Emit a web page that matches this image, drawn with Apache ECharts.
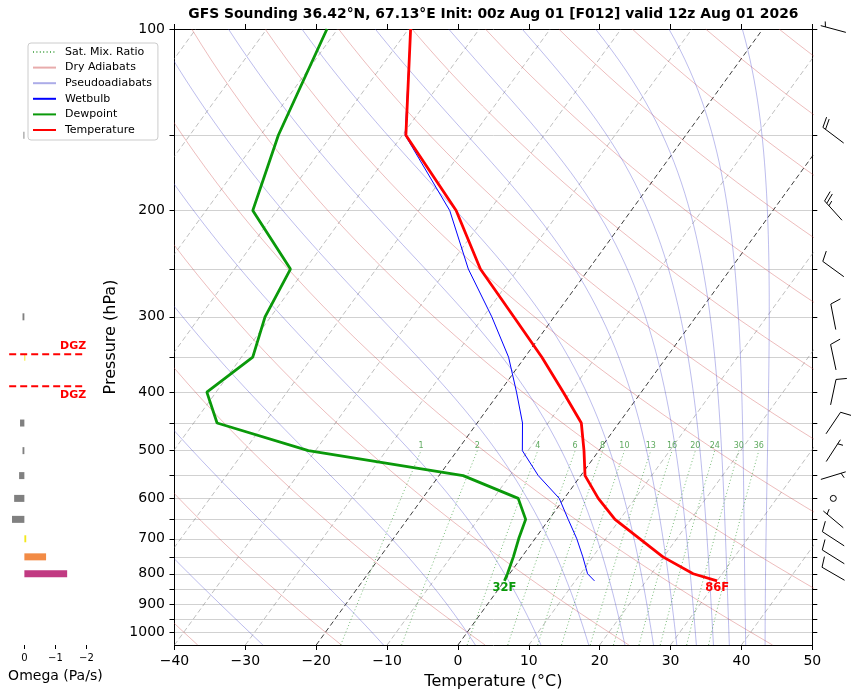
<!DOCTYPE html>
<html>
<head>
<meta charset="utf-8">
<script src="https://cdn.jsdelivr.net/npm/echarts@6/dist/echarts.min.js"></script>
<style>
  html, body { margin: 0; padding: 0; background: #fff; }
  #chart { width: 854px; height: 693px; }
</style>
</head>
<body>
<div id="chart"></div>
<script>
// sounding (hPa / degC)
const levels = [100, 150, 200, 250, 300, 350, 400, 450, 500, 550, 600, 650, 700, 750, 800, 822];
const temperature = [-69.7, -59.5, -44.7, -35.3, -25.7, -17.6, -11.0, -5.3, -2.1, 0.6, 4.8, 9.3, 14.8, 19.9, 25.9, 30.0];
const dewpoint = [-81.5, -77.5, -73.4, -62.1, -60.8, -58.4, -61.3, -56.7, -41.0, -16.6, -6.5, -3.3, -2.3, -1.2, -0.3, 0.0];
const wetbulb = [-69.7, -59.6, -45.6, -37.0, -28.8, -22.3, -17.6, -13.6, -10.8, -6.0, -0.7, 2.7, 5.9, 8.6, 11.0, 12.7];

// omega panel (Pa/s)
const omegaLevels = [150, 300, 350, 450, 500, 550, 600, 650, 700, 750, 800];
const omegaValues = [0.03, 0.06, -0.02, 0.14, 0.06, 0.17, 0.33, 0.40, -0.06, -0.70, -1.38];
const omegaColors = ["#808080", "#808080", "#f3e81c", "#808080", "#808080", "#808080", "#808080", "#808080", "#f3e81c", "#f28b45", "#c13a82"];
const dgzLevels = [346, 391];

// wind barbs (deg from, knots)
const windLevels = [100, 150, 200, 250, 300, 350, 400, 450, 500, 550, 600, 650, 700, 750, 800];
const windDir = [285, 307, 318, 306, 349, 348, 12, 34, 33, 73, 0, 310, 303, 302, 300];
const windSpeed = [5, 20, 25, 10, 10, 10, 10, 10, 5, 5, 0, 5, 10, 10, 10];

// background lines of the diagram
const isotherms = [-100, -90, -80, -70, -60, -50, -40, -30, -20, -10, 0, 10, 20, 30, 40];
const highlightIsotherms = [-20, 0];
const dryAdiabats = [-40, -20, 0, 20, 40, 60, 80, 100, 120, 140, 160, 180, 200, 220];
// pseudoadiabats, named by their potential temperature at the 100 hPa top
const moistAdiabats = [-30, -10, 10, 30, 50, 70, 90, 110, 130, 150, 170, 190, 210];
const mixingRatios = [1, 2, 4, 6, 8, 10, 13, 16, 20, 24, 30, 36];
const mixTop = 500;

// axes
const pressureTicks = [100, 150, 200, 250, 300, 350, 400, 450, 500, 550, 600, 650, 700, 750, 800, 850, 900, 950, 1000];
const pressureLabels = [100, 200, 300, 400, 500, 600, 700, 800, 900, 1000];
const omegaTicks = [0, -1, -2];

const P_TOP = 100, P_BOT = 1050, T_MIN = -40, T_MAX = 50;
const SKEW = Math.tan(35 * Math.PI / 180) * (T_MAX - T_MIN);
const FONT = "DejaVu Sans";
const KAPPA = 0.2857;
const minus = (v) => String(v).replace("-", "\u2212");

function skewX(t, p) {
  const yf = Math.log(P_BOT / p) / Math.log(P_BOT / P_TOP);
  return t + SKEW * yf;
}

function pressureSteps(n) {
  const out = [];
  for (let k = 0; k <= n; k++) out.push(P_BOT * Math.pow(P_TOP / P_BOT, k / n));
  return out;
}

const RD = 287.04749, CPD = 1004.6662, LV = 2.50084e6, EPS = 0.621957;

function satVap(tc) {
  return 6.112 * Math.exp(17.67 * tc / (tc + 243.5));
}

function moistSlope(tK, lnp) {
  const p = Math.exp(lnp);
  const es = satVap(tK - 273.15);
  const rs = EPS * es / (p - es);
  return (RD * tK + LV * rs) / (CPD + LV * LV * rs * EPS / (RD * tK * tK));
}

// integrate a pseudoadiabat down from the top of the diagram
function moistLine(thetaTop) {
  const n = 60;
  let t = (thetaTop + 273.15) * Math.pow(P_TOP / 1000, KAPPA);
  let x = Math.log(P_TOP);
  const h = (Math.log(P_BOT) - x) / n;
  const out = [[t - 273.15, P_TOP]];
  for (let k = 0; k < n; k++) {
    const k1 = moistSlope(t, x);
    const k2 = moistSlope(t + h * k1 / 2, x + h / 2);
    const k3 = moistSlope(t + h * k2 / 2, x + h / 2);
    const k4 = moistSlope(t + h * k3, x + h);
    t += h * (k1 + 2 * k2 + 2 * k3 + k4) / 6;
    x += h;
    out.push([t - 273.15, Math.exp(x)]);
  }
  return out;
}

function dewFromMix(w, p) {
  const e = (w / 1000) * p / (EPS + w / 1000);
  const a = Math.log(e / 6.112);
  return 243.5 * a / (17.67 - a);
}

function lineSeries(name, pts, lineStyle, extra) {
  return Object.assign({
    name: name,
    type: "line",
    xAxisIndex: 0,
    yAxisIndex: 0,
    data: pts.map(([t, p]) => [skewX(t, p), p]),
    symbol: "none",
    showSymbol: false,
    silent: true,
    lineStyle: lineStyle,
    itemStyle: { color: "rgba(0,0,0,0)", borderWidth: 0 },
    z: 2,
  }, extra || {});
}

const series = [];

isotherms.forEach((t) => {
  const hi = highlightIsotherms.includes(t);
  series.push(lineSeries("Isotherm", [[t, P_BOT], [t, P_TOP]], {
    color: hi ? "rgba(0,0,0,0.85)" : "rgba(120,120,120,0.6)",
    width: hi ? 0.9 : 0.8,
    type: [5, 3],
  }));
});

dryAdiabats.forEach((th) => {
  const pts = pressureSteps(40).map((p) => [(th + 273.15) * Math.pow(p / 1000, KAPPA) - 273.15, p]);
  series.push(lineSeries("Dry Adiabats", pts, { color: "rgba(205,70,70,0.45)", width: 0.8 }));
});

moistAdiabats.forEach((th) => {
  series.push(lineSeries("Pseudoadiabats", moistLine(th), { color: "rgba(70,70,205,0.45)", width: 0.8 }));
});

mixingRatios.forEach((w) => {
  const pts = pressureSteps(40).filter((p) => p >= mixTop - 0.01).map((p) => [dewFromMix(w, p), p]);
  pts.push([dewFromMix(w, mixTop), mixTop]);
  series.push(lineSeries("Sat. Mix. Ratio", pts, { color: "rgba(0,128,0,0.6)", width: 0.9, type: [1, 2.4] }, {
    endLabel: {
      show: true,
      formatter: String(w),
      color: "rgba(40,140,40,0.75)",
      fontSize: 8,
      fontFamily: FONT,
      align: "center",
      verticalAlign: "bottom",
      distance: 0,
      offset: [0, -1],
    },
  }));
});

const sfc = levels.length - 1;
const toF = (c) => Math.round(c * 9 / 5 + 32) + "F";

series.push(lineSeries("Wetbulb", levels.map((p, i) => [wetbulb[i], p]), { color: "#0000ff", width: 1 }, { z: 5 }));
series.push(lineSeries("Dewpoint", levels.map((p, i) => [dewpoint[i], p]), { color: "#0a990a", width: 2.8 }, {
  z: 6,
  endLabel: {
    show: true, formatter: toF(dewpoint[sfc]), color: "#0a990a", fontWeight: "bold", fontSize: 11.5,
    fontFamily: FONT, align: "center", verticalAlign: "top", distance: 0, offset: [0, 1],
  },
}));
series.push(lineSeries("Temperature", levels.map((p, i) => [temperature[i], p]), { color: "#ff0000", width: 2.8 }, {
  z: 7,
  endLabel: {
    show: true, formatter: toF(temperature[sfc]), color: "#ff0000", fontWeight: "bold", fontSize: 11.5,
    fontFamily: FONT, align: "center", verticalAlign: "top", distance: 0, offset: [0, 1],
  },
}));

// omega bars
series.push({
  name: "Omega",
  type: "custom",
  xAxisIndex: 2,
  yAxisIndex: 2,
  silent: true,
  data: omegaLevels.map((p, i) => [omegaValues[i], p, i]),
  renderItem: (params, api) => {
    const a = api.coord([0, api.value(1)]);
    const b = api.coord([api.value(0), api.value(1)]);
    const h = 7;
    return {
      type: "rect",
      shape: { x: Math.min(a[0], b[0]), y: a[1] - h / 2, width: Math.max(Math.abs(b[0] - a[0]), 0.9), height: h },
      style: { fill: omegaColors[api.value(2)] },
    };
  },
});

dgzLevels.forEach((p, i) => {
  series.push({
    name: "DGZ",
    type: "line",
    xAxisIndex: 2,
    yAxisIndex: 2,
    data: [[0.49, p], [-1.93, p]],
    symbol: "none",
    silent: true,
    lineStyle: { color: "#ff0000", width: 2, type: [7, 4] },
    z: 4,
    endLabel: {
      show: true, formatter: "DGZ", color: "#ff0000", fontWeight: "bold", fontSize: 11, fontFamily: FONT,
      align: "right", verticalAlign: i === 0 ? "bottom" : "top", distance: 0, offset: [2, i === 0 ? -3 : 3],
    },
  });
});

// wind barbs
series.push({
  name: "Wind",
  type: "custom",
  xAxisIndex: 3,
  yAxisIndex: 3,
  silent: true,
  clip: false,
  data: windLevels.map((p, i) => [0.5, p, windDir[i], windSpeed[i]]),
  renderItem: (params, api) => {
    const c = api.coord([api.value(0), api.value(1)]);
    const dir = api.value(2) * Math.PI / 180;
    let spd = Math.round(api.value(3) / 5) * 5;
    const L = 26;
    const style = { stroke: "#000", lineWidth: 1, fill: null };
    if (spd === 0) {
      return { type: "circle", shape: { cx: c[0], cy: c[1], r: 3 }, style: style };
    }
    const dx = Math.sin(dir), dy = -Math.cos(dir);
    const nx = Math.cos(dir), ny = Math.sin(dir);
    const at = (s, h) => [c[0] + (s - L / 2) * dx + h * nx, c[1] + (s - L / 2) * dy + h * ny];
    const seg = (p, q) => ({ type: "line", shape: { x1: p[0], y1: p[1], x2: q[0], y2: q[1] }, style: style });
    const kids = [seg(at(0, 0), at(L, 0))];
    const fh = 0.4 * L, fw = 0.25 * L, sp = 0.125 * L;
    let s = L;
    while (spd >= 50) {
      kids.push({ type: "polygon", shape: { points: [at(s, 0), at(s - fw / 2, fh), at(s - fw, 0)] }, style: { fill: "#000" } });
      s -= fw + sp;
      spd -= 50;
    }
    while (spd >= 10) {
      kids.push(seg(at(s, 0), at(s + fw / 2, fh)));
      s -= sp;
      spd -= 10;
    }
    if (spd >= 5) {
      if (s === L) s -= 1.5 * sp;
      kids.push(seg(at(s, 0), at(s + fw / 4, fh / 2)));
    }
    return { type: "group", children: kids };
  },
});

const pressureAxis = {
  type: "log",
  logBase: 10,
  min: P_TOP,
  max: P_BOT,
  inverse: true,
};

const option = {
  animation: false,
  backgroundColor: "#fff",
  textStyle: { fontFamily: FONT, color: "#000" },
  title: {
    text: "GFS Sounding 36.42\u00b0N, 67.13\u00b0E Init: 00z Aug 01 [F012] valid 12z Aug 01 2026",
    left: 493.4,
    top: 7,
    padding: 0,
    textAlign: "center",
    textStyle: { fontFamily: FONT, fontSize: 13.9, fontWeight: "bold", color: "#000" },
  },
  legend: {
    data: ["Sat. Mix. Ratio", "Dry Adiabats", "Pseudoadiabats", "Wetbulb", "Dewpoint", "Temperature"],
    orient: "vertical",
    left: 28,
    top: 43,
    itemWidth: 23,
    itemHeight: 12,
    itemGap: 3.6,
    padding: [3, 6, 4, 4],
    backgroundColor: "rgba(255,255,255,0.9)",
    borderColor: "#cccccc",
    borderWidth: 1,
    borderRadius: 3,
    selectedMode: false,
    itemStyle: { opacity: 0 },
    textStyle: { fontFamily: FONT, fontSize: 11, color: "#000", lineHeight: 12, padding: [0, 0, 0, 4] },
    z: 20,
  },
  grid: [
    { left: 174.5, top: 29, width: 637.8, height: 616, outerBoundsMode: "none" },
    { left: 5, top: 29, width: 100.75, height: 616, outerBoundsMode: "none" },
    { left: 812.3, top: 29, width: 42, height: 616, outerBoundsMode: "none" },
  ],
  xAxis: [
    {
      gridIndex: 0, type: "value", min: T_MIN, max: T_MAX, interval: 10, position: "bottom",
      axisLine: { show: true, onZero: false, lineStyle: { color: "#000", width: 1 } },
      axisTick: { show: true, length: 5, lineStyle: { color: "#000" } },
      axisLabel: { fontSize: 14, color: "#000", margin: 9.5, formatter: minus },
      splitLine: { show: false },
      name: "Temperature (\u00b0C)", nameLocation: "middle", nameGap: 29,
      nameTextStyle: { fontSize: 16, color: "#000", fontFamily: FONT },
    },
    {
      gridIndex: 0, type: "value", min: T_MIN, max: T_MAX, interval: 10, position: "top",
      axisLine: { show: true, onZero: false, lineStyle: { color: "#000", width: 1 } },
      axisTick: { show: true, length: 5, lineStyle: { color: "#000" } },
      axisLabel: { show: false },
      splitLine: { show: false },
    },
    {
      gridIndex: 1, type: "value", min: -2.625, max: 0.625, inverse: true,
      axisLine: { show: false, onZero: false },
      axisTick: { show: true, length: 4, customValues: omegaTicks, lineStyle: { color: "#000" } },
      axisLabel: { fontSize: 10, color: "#000", margin: 8, customValues: omegaTicks, formatter: minus },
      splitLine: { show: false },
      name: "Omega (Pa/s)", nameLocation: "middle", nameGap: 24,
      nameTextStyle: { fontSize: 14, color: "#000", fontFamily: FONT },
    },
    { gridIndex: 2, type: "value", min: 0, max: 1, show: false },
  ],
  yAxis: [
    Object.assign({}, pressureAxis, {
      gridIndex: 0, position: "left",
      axisLine: { show: true, onZero: false, lineStyle: { color: "#000", width: 1 } },
      axisTick: { show: true, length: 5, customValues: pressureTicks, lineStyle: { color: "#000" } },
      axisLabel: { fontSize: 14, color: "#000", margin: 9.5, customValues: pressureLabels, formatter: (v) => String(Math.round(v)) },
      splitLine: { show: true, lineStyle: { color: "#cccccc", width: 0.9 } },
      name: "Pressure (hPa)", nameLocation: "middle", nameGap: 51, nameRotate: 90,
      nameTextStyle: { fontSize: 16, color: "#000", fontFamily: FONT },
    }),
    Object.assign({}, pressureAxis, {
      gridIndex: 0, position: "right",
      axisLine: { show: true, onZero: false, lineStyle: { color: "#000", width: 1 } },
      axisTick: { show: true, length: 5, customValues: pressureTicks, lineStyle: { color: "#000" } },
      axisLabel: { show: false },
      splitLine: { show: false },
    }),
    Object.assign({}, pressureAxis, { gridIndex: 1, show: false }),
    Object.assign({}, pressureAxis, { gridIndex: 2, show: false }),
  ],
  series: series,
};

const chart = echarts.init(document.getElementById("chart"), null, { renderer: "canvas" });
chart.setOption(option);
</script>
</body>
</html>
